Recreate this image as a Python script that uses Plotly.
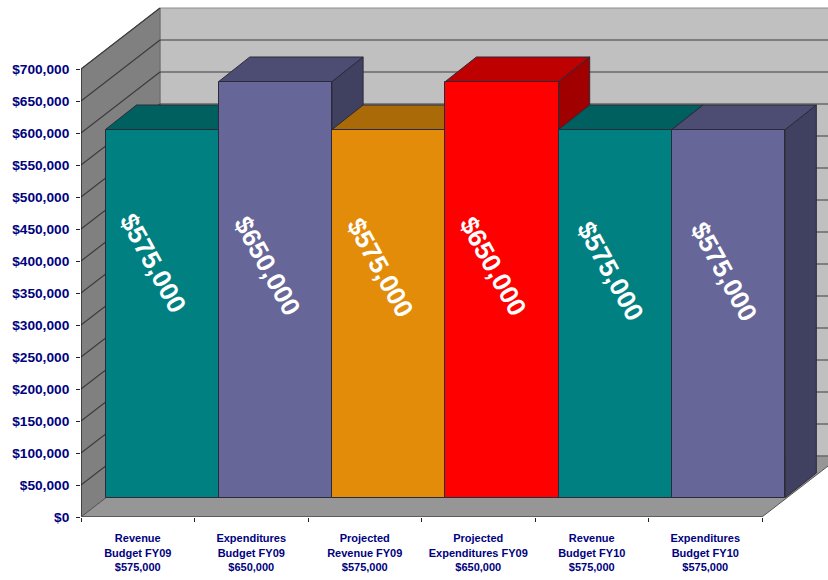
import plotly.graph_objects as go

categories = ["Revenue<br>Budget FY09<br>$575,000", "Expenditures<br>Budget FY09<br>$650,000",
              "Projected<br>Revenue FY09<br>$575,000", "Projected<br>Expenditures FY09<br>$650,000",
              "Revenue<br>Budget FY10<br>$575,000", "Expenditures<br>Budget FY10<br>$575,000"]
values = [575000, 650000, 575000, 650000, 575000, 575000]
bar_labels = ["$575,000", "$650,000", "$575,000", "$650,000", "$575,000", "$575,000"]
label_height = [397000, 392000, 390000, 392000, 384000, 384000]
label_shift_px = [-9, -8, -9, -9, -5, -5]
front_colors = ["#008080", "#666699", "#E38C0A", "#FF0000", "#008080", "#666699"]
top_colors = ["#006060", "#4D4D73", "#AA6A07", "#BF0000", "#006060", "#4D4D73"]
side_colors = ["#004D4D", "#404060", "#885506", "#A00000", "#004D4D", "#404060"]
y_ticks = list(range(0, 700001, 50000))

W, H = 828, 580
X0, Y0 = 81, 517          # pixel of the axes origin
CAT_PX, VAL_PX = 113.5, 0.00064   # pixels per category / per dollar
cat = lambda px: px / CAT_PX
val = lambda px: px / VAL_PX
x_range = [-0.5, -0.5 + cat(W - X0)]
y_range = [0, val(Y0)]
wall_dx, wall_dy = cat(79), val(61)
bar_dx, bar_dy = cat(24.5), val(19.5)
dep_dx, dep_dy = cat(31), val(24.5)
bar_w = cat(113.3)
n = len(categories)
y_top = max(y_ticks)
x_end = n - 0.5
bar_x = [i * bar_w + bar_dx - 0.5 * (1 - bar_w) for i in range(n)]

def poly(pts, fill, line="#333333", width=1):
    path = "M" + " L".join(f"{x},{y}" for x, y in pts) + " Z"
    return dict(type="path", path=path, xref="x", yref="y", layer="below",
                fillcolor=fill, line=dict(color=line, width=width))

def seg(x1, y1, x2, y2, color="#3c3c3c", width=1.2):
    return dict(type="line", x0=x1, y0=y1, x1=x2, y1=y2, xref="x", yref="y", layer="below",
                line=dict(color=color, width=width))

shapes = []
# walls and floor
shapes.append(poly([(-0.5 + wall_dx, wall_dy), (x_end + wall_dx, wall_dy),
                    (x_end + wall_dx, y_top + wall_dy), (-0.5 + wall_dx, y_top + wall_dy)], "#C0C0C0", "#8c8c8c"))
shapes.append(poly([(-0.5, 0), (-0.5 + wall_dx, wall_dy), (-0.5 + wall_dx, y_top + wall_dy), (-0.5, y_top)],
                   "#808080", "#6a6a6a"))
shapes.append(poly([(-0.5, 0), (x_end, 0), (x_end + wall_dx, wall_dy), (-0.5 + wall_dx, wall_dy)],
                   "#969696", "#555555"))
# gridlines
for t in y_ticks[1:]:
    shapes.append(seg(-0.5, t, -0.5 + wall_dx, t + wall_dy))
    if t < y_top:
        shapes.append(seg(-0.5 + wall_dx, t + wall_dy, x_end + wall_dx, t + wall_dy))
# axis lines
shapes.append(seg(-0.5, 0, -0.5, y_top, "#222222", 1.2))
shapes.append(seg(-0.5, 0, x_end, 0, "#555555", 1.5))
# bar tops and sides
for i, v in enumerate(values):
    l, r = bar_x[i] - bar_w / 2, bar_x[i] + bar_w / 2
    t = v + bar_dy
    shapes.append(poly([(r, bar_dy), (r + dep_dx, bar_dy + dep_dy), (r + dep_dx, t + dep_dy), (r, t)],
                       side_colors[i], "#2a2a3a"))
    shapes.append(poly([(l, t), (r, t), (r + dep_dx, t + dep_dy), (l + dep_dx, t + dep_dy)],
                       top_colors[i], "#2a2a3a"))

fig = go.Figure()
fig.add_trace(go.Bar(
    x=bar_x, y=values, base=bar_dy, width=bar_w,
    marker=dict(color=front_colors, line=dict(color="#2a2a3a", width=1)),
    hoverinfo="y", showlegend=False))

annotations = [dict(x=bar_x[i] + cat(label_shift_px[i]), y=h, xref="x", yref="y", text=bar_labels[i],
                    showarrow=False, textangle=61,
                    font=dict(family="Liberation Sans", size=26, color="white", weight="bold"))
               for i, h in enumerate(label_height)]

fig.update_layout(
    width=W, height=H, autosize=False,
    margin=dict(l=X0, r=0, t=0, b=H - Y0),
    paper_bgcolor="white", plot_bgcolor="white",
    bargap=0, shapes=shapes, annotations=annotations,
    xaxis=dict(range=x_range, showgrid=False, zeroline=False, showline=False,
               tickmode="array", tickvals=list(range(n)), ticktext=categories,
               ticks="outside", ticklen=11, tickcolor="rgba(0,0,0,0)", tickangle=0,
               tickfont=dict(family="Liberation Sans", size=11, color="#000080", weight="bold"),
               minor=dict(tickmode="array", tickvals=[i - 0.5 for i in range(n + 1)],
                          ticks="outside", ticklen=4, tickcolor="#222222", tickwidth=1, showgrid=False)),
    yaxis=dict(range=y_range, showgrid=False, zeroline=False, showline=False,
               tickmode="array", tickvals=y_ticks, ticktext=[f"${t:,}" for t in y_ticks],
               ticks="outside", ticklen=4, tickcolor="#222222", tickwidth=1, ticklabelstandoff=4,
               tickfont=dict(family="Liberation Sans", size=13.7, color="#000080", weight="bold")),
)
fig.write_html("out.html", config={"displayModeBar": False},
               post_script="document.body.style.margin='0';")
